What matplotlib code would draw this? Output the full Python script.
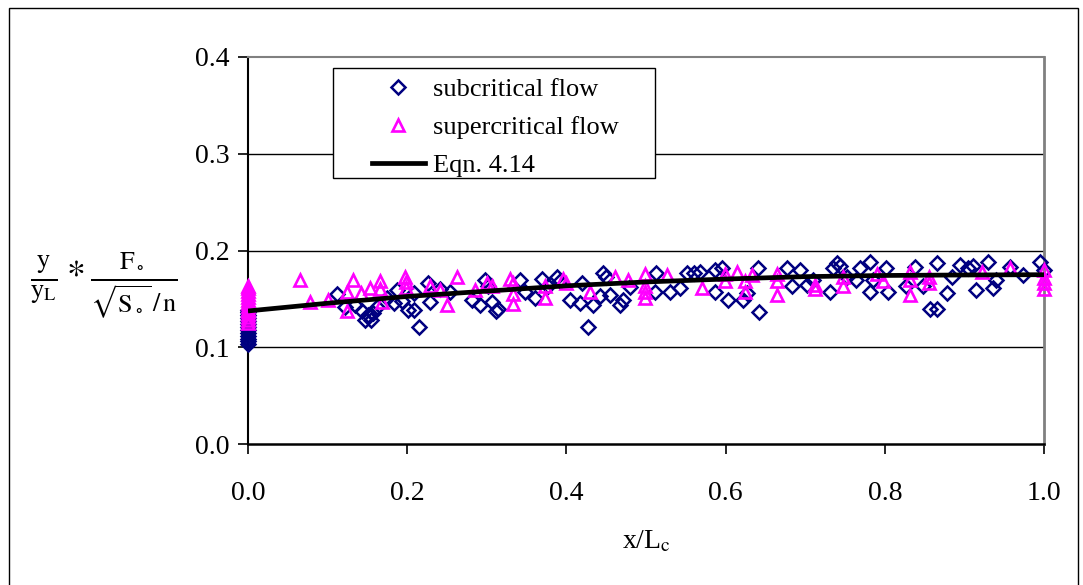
import matplotlib
matplotlib.use("Agg")
import matplotlib.pyplot as plt
from matplotlib.patches import Rectangle
from matplotlib.lines import Line2D

plt.rcParams['font.family'] = ['Liberation Serif', 'DejaVu Serif']
plt.rcParams['mathtext.fontset'] = 'stix'

# ---------------- data ----------------
sub_x0 = [0.0] * 13
sub_y0 = [0.103, 0.106, 0.109, 0.112, 0.115, 0.118, 0.121, 0.124, 0.127, 0.130, 0.133, 0.136, 0.139]
sub_x = [0.112, 0.122, 0.134, 0.143, 0.147, 0.155, 0.151, 0.157, 0.162, 0.174, 0.183, 0.187, 0.193,
         0.201, 0.208, 0.208, 0.215, 0.226, 0.229, 0.241, 0.254, 0.281, 0.291, 0.298, 0.302, 0.306,
         0.312, 0.314, 0.342, 0.348, 0.361, 0.369, 0.377, 0.388, 0.392, 0.405, 0.417, 0.419, 0.427,
         0.434, 0.442, 0.446, 0.450, 0.455, 0.467, 0.471, 0.480, 0.513, 0.511, 0.530, 0.543, 0.551,
         0.560, 0.568, 0.587, 0.587, 0.595, 0.603, 0.622, 0.627, 0.641, 0.642, 0.677, 0.683, 0.693,
         0.702, 0.710, 0.731, 0.735, 0.740, 0.744, 0.752, 0.764, 0.769, 0.781, 0.781, 0.785, 0.802,
         0.804, 0.827, 0.838, 0.848, 0.857, 0.865, 0.865, 0.878, 0.884, 0.894, 0.905, 0.911, 0.915,
         0.930, 0.936, 0.940, 0.957, 0.974, 0.995, 1.000]
sub_y = [0.155, 0.142, 0.144, 0.137, 0.128, 0.128, 0.133, 0.135, 0.142, 0.151, 0.146, 0.159, 0.148,
         0.138, 0.138, 0.156, 0.121, 0.166, 0.147, 0.160, 0.157, 0.149, 0.144, 0.170, 0.163, 0.147,
         0.137, 0.140, 0.170, 0.157, 0.151, 0.171, 0.163, 0.173, 0.168, 0.149, 0.146, 0.166, 0.121,
         0.144, 0.153, 0.177, 0.173, 0.154, 0.144, 0.149, 0.162, 0.177, 0.157, 0.157, 0.161, 0.177,
         0.177, 0.178, 0.180, 0.157, 0.182, 0.149, 0.149, 0.156, 0.182, 0.136, 0.182, 0.163, 0.180,
         0.164, 0.169, 0.157, 0.182, 0.187, 0.184, 0.173, 0.170, 0.182, 0.188, 0.157, 0.169, 0.182,
         0.157, 0.163, 0.183, 0.163, 0.140, 0.140, 0.187, 0.156, 0.173, 0.185, 0.182, 0.184, 0.159,
         0.188, 0.161, 0.169, 0.183, 0.175, 0.188, 0.180]

sup_x0 = [0.0] * 14
sup_y0 = [0.125, 0.128, 0.131, 0.134, 0.137, 0.140, 0.143, 0.146, 0.149, 0.152, 0.155, 0.158, 0.161, 0.163]
sup_x = [0.065, 0.078, 0.101, 0.124, 0.124, 0.132, 0.142, 0.153, 0.166, 0.168, 0.166, 0.197, 0.199,
         0.199, 0.229, 0.241, 0.250, 0.262, 0.285, 0.300, 0.306, 0.329, 0.333, 0.333, 0.333, 0.373,
         0.373, 0.396, 0.400, 0.430, 0.461, 0.478, 0.499, 0.499, 0.499, 0.499, 0.526, 0.570, 0.599,
         0.599, 0.614, 0.624, 0.624, 0.633, 0.664, 0.664, 0.664, 0.712, 0.712, 0.748, 0.748, 0.790,
         0.798, 0.832, 0.832, 0.832, 0.855, 0.855, 0.922, 0.957, 1.000, 1.000, 1.000, 1.000]
sup_y = [0.170, 0.147, 0.149, 0.137, 0.157, 0.170, 0.156, 0.161, 0.168, 0.147, 0.160, 0.173, 0.161,
         0.167, 0.163, 0.159, 0.144, 0.173, 0.159, 0.166, 0.163, 0.171, 0.166, 0.145, 0.155, 0.151,
         0.163, 0.171, 0.166, 0.157, 0.173, 0.170, 0.176, 0.163, 0.151, 0.157, 0.175, 0.161, 0.176,
         0.168, 0.178, 0.168, 0.157, 0.175, 0.176, 0.168, 0.154, 0.164, 0.160, 0.173, 0.163, 0.176,
         0.168, 0.178, 0.170, 0.154, 0.173, 0.166, 0.178, 0.182, 0.180, 0.172, 0.166, 0.160]

eqn_x = [0.0, 0.1, 0.2, 0.3, 0.4, 0.5, 0.6, 0.7, 0.8, 0.9, 1.0]
eqn_y = [0.1375, 0.1455, 0.1525, 0.158, 0.1635, 0.1675, 0.1705, 0.173, 0.1742, 0.1747, 0.175]

xticks = [0.0, 0.2, 0.4, 0.6, 0.8, 1.0]
xtick_labels = ['0.0', '0.2', '0.4', '0.6', '0.8', '1.0']
yticks = [0.0, 0.1, 0.2, 0.3, 0.4]
ytick_labels = ['0.0', '0.1', '0.2', '0.3', '0.4']

NAVY = '#000080'
MAG = '#FF00FF'

# ---------------- figure ----------------
fig = plt.figure(figsize=(10.83, 5.85), dpi=100)
ax = fig.add_axes([248 / 1083, 1 - 444 / 585, (1044 - 248) / 1083, (444 - 57) / 585])

ax.plot(sub_x0 + sub_x, sub_y0 + sub_y, linestyle='none', marker='D', markersize=7.6,
        markerfacecolor='none', markeredgecolor=NAVY, markeredgewidth=1.8, clip_on=False, zorder=3)
ax.plot(sup_x0 + sup_x, sup_y0 + sup_y, linestyle='none', marker='^', markersize=8.5,
        markerfacecolor='none', markeredgecolor=MAG, markeredgewidth=1.9, clip_on=False, zorder=4)
ax.plot(eqn_x, eqn_y, color='black', linewidth=3.4, solid_capstyle='butt', zorder=5)

ax.set_xlim(0, 1)
ax.set_ylim(0, 0.4)
ax.set_xticks(xticks)
ax.set_xticklabels(xtick_labels)
ax.set_yticks(yticks)
ax.set_yticklabels(ytick_labels)
ax.tick_params(axis='both', direction='out', length=7, width=1.2, labelsize=20, colors='black', pad=6)
ax.tick_params(axis='x', pad=20)

for yv in yticks[1:4]:
    ax.axhline(yv, color='black', linewidth=1.0, zorder=1)

ax.spines['left'].set_color('black')
ax.spines['left'].set_linewidth(1.5)
ax.spines['bottom'].set_color('black')
ax.spines['bottom'].set_linewidth(1.8)
ax.spines['top'].set_color('#808080')
ax.spines['top'].set_linewidth(1.5)
ax.spines['right'].set_color('#808080')
ax.spines['right'].set_linewidth(2.0)

ax.set_xlabel(r'x/L$_{\mathrm{c}}$', fontsize=20, labelpad=16)

# y label equation
fig.text(104 / 1083, 1 - 285 / 585,
         r'$\frac{\mathrm{y}}{\mathrm{y}_\mathrm{L}}*\frac{\mathrm{F}_\circ}{\sqrt{\mathrm{S}_\circ}\,/\,\mathrm{n}}$',
         fontsize=27, ha='center', va='center')

# legend frame + legend
lx0, lx1 = 333 / 1083, 655 / 1083
ly0, ly1 = 1 - 178 / 585, 1 - 68 / 585
fig.patches.append(Rectangle((lx0, ly0), lx1 - lx0, ly1 - ly0, transform=fig.transFigure,
                             facecolor='white', edgecolor='black', linewidth=1.0, zorder=6))
handles = [
    Line2D([], [], linestyle='none', marker='D', markersize=7.0, markerfacecolor='none',
           markeredgecolor=NAVY, markeredgewidth=1.8),
    Line2D([], [], linestyle='none', marker='^', markersize=8.0, markerfacecolor='none',
           markeredgecolor=MAG, markeredgewidth=1.9),
    Line2D([], [], color='black', linewidth=3.4),
]
labels = ['subcritical flow', 'supercritical flow', 'Eqn. 4.14']
leg = fig.legend(handles, labels, loc='upper left', bbox_to_anchor=(372 / 1083, 1 - 78 / 585),
                 frameon=False, fontsize=19, handlelength=2.0, handletextpad=0.3,
                 labelspacing=0.55, borderpad=0.0, borderaxespad=0.0)
leg.set_zorder(7)

# outer border
fig.patches.append(Rectangle((9 / 1083, -0.02), (1078 - 9) / 1083, 1 - 8 / 585 + 0.02,
                             transform=fig.transFigure, facecolor='none', edgecolor='black',
                             linewidth=1.0, zorder=0))

fig.savefig('out.png', dpi=100)
